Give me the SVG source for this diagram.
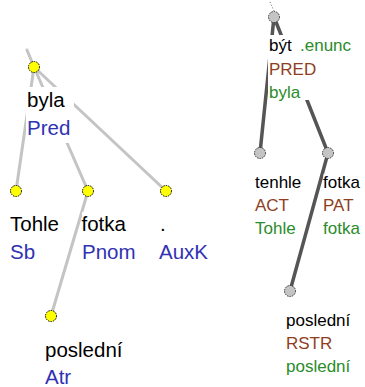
<svg xmlns="http://www.w3.org/2000/svg" width="365" height="387" viewBox="0 0 365 387">
<style>
.bg{fill:#fff}
.lt{font-family:"Liberation Sans",Arial,sans-serif;font-size:20.5px}
.rt{font-family:"Liberation Sans",Arial,sans-serif;font-size:17px}
.k{fill:#000}
.b{fill:#3131b4}
.br{fill:#8f3e22}
.g{fill:#2a8c2a}
.ln{stroke:#c4c4c4;stroke-width:3;fill:none;stroke-linecap:round}
.rn{stroke:#555;stroke-width:3.5;fill:none;stroke-linecap:round}
.yn{fill:#ffff00;stroke:#000;stroke-width:1;stroke-dasharray:1.5 1}
.gn{fill:#c4c4c4;stroke:#333;stroke-width:1;stroke-dasharray:1.5 1}
</style>
<rect width="365" height="387" fill="#fff"/>
<g id="connectors">
<line class="ln" x1="27" y1="50" x2="34" y2="67"/>
<line class="ln" x1="34" y1="67" x2="16" y2="191"/>
<line class="ln" x1="34" y1="67" x2="88" y2="191"/>
<line class="ln" x1="34" y1="67" x2="166" y2="191"/>
<line class="ln" x1="88" y1="191" x2="51" y2="316"/>
<line x1="270" y1="2" x2="274" y2="11" stroke="#666" stroke-width="1" stroke-dasharray="1 2"/>
<line class="rn" x1="274" y1="17" x2="260" y2="153"/>
<line class="rn" x1="274" y1="17" x2="328" y2="153"/>
<line class="rn" x1="328" y1="153" x2="290" y2="291"/>
</g>
<g id="a_root">
<circle class="yn" cx="34" cy="67" r="5.5"/>
<rect class="bg" x="26" y="87" width="48" height="56"/>
<text class="lt k" x="27" y="107">byla</text>
<text class="lt b" x="27" y="135">Pred</text>
</g>
<g id="a_tohle">
<circle class="yn" cx="16" cy="191" r="5.5"/>
<rect class="bg" x="9" y="212" width="54" height="55"/>
<text class="lt k" x="10" y="231">Tohle</text>
<text class="lt b" x="10" y="259">Sb</text>
</g>
<g id="a_fotka">
<circle class="yn" cx="88" cy="191" r="5.5"/>
<rect class="bg" x="82" y="212" width="57" height="55"/>
<text class="lt k" x="81.5" y="231">fotka</text>
<text class="lt b" x="82" y="259">Pnom</text>
</g>
<g id="a_auxk">
<circle class="yn" cx="166" cy="191" r="5.5"/>
<rect class="bg" x="158" y="212" width="53" height="55"/>
<text class="lt k" x="160" y="231">.</text>
<text class="lt b" x="159" y="259">AuxK</text>
</g>
<g id="a_posledni">
<circle class="yn" cx="51" cy="316" r="5.5"/>
<rect class="bg" x="44" y="338" width="82" height="49"/>
<text class="lt k" x="45" y="357">poslední</text>
<text class="lt b" x="45" y="384">Atr</text>
</g>
<g id="t_root">
<circle class="gn" cx="274" cy="17" r="5.5"/>
<rect class="bg" x="268" y="35" width="85" height="65"/>
<text class="rt k" x="269" y="51">být<tspan class="g" x="300">.enunc</tspan></text>
<text class="rt br" x="269" y="75">PRED</text>
<text class="rt g" x="269" y="98">byla</text>
</g>
<g id="t_tenhle">
<circle class="gn" cx="260" cy="153" r="5.5"/>
<rect class="bg" x="254" y="173" width="48" height="66"/>
<text class="rt k" x="255" y="188">tenhle</text>
<text class="rt br" x="255" y="211">ACT</text>
<text class="rt g" x="255" y="234">Tohle</text>
</g>
<g id="t_fotka">
<circle class="gn" cx="328" cy="153" r="5.5"/>
<rect class="bg" x="323.5" y="174" width="40" height="65"/>
<text class="rt k" x="323" y="188">fotka</text>
<text class="rt br" x="323" y="211">PAT</text>
<text class="rt g" x="323" y="234">fotka</text>
</g>
<g id="t_posledni">
<circle class="gn" cx="290" cy="291" r="5.5"/>
<rect class="bg" x="285" y="311" width="68" height="66"/>
<text class="rt k" x="286" y="326">poslední</text>
<text class="rt br" x="286" y="349">RSTR</text>
<text class="rt g" x="286" y="372">poslední</text>
</g>
</svg>
